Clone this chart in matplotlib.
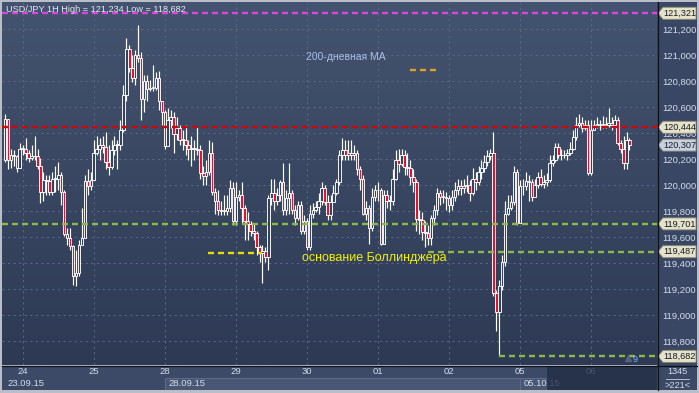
import numpy as np
import matplotlib
matplotlib.use('Agg')
import matplotlib.pyplot as plt
from matplotlib import font_manager
from matplotlib.patches import Rectangle, Polygon
from matplotlib.colors import LinearSegmentedColormap
from matplotlib.transforms import blended_transform_factory, IdentityTransform

installed = {f.name for f in font_manager.fontManager.ttflist}
plt.rcParams['font.family'] = 'Liberation Sans' if 'Liberation Sans' in installed else 'DejaVu Sans'
plt.rcParams['lines.scale_dashes'] = False

# USD/JPY hourly candles, 23.09.15 18:00 .. 06.10.15
first_open = 120.19
closes = [120.51, 120.19, 120.23, 120.22, 120.13, 120.28, 120.28, 120.25, 120.21, 120.22,
          120.22, 120.15, 119.95, 120.04, 120.03, 119.95, 120.05, 120.05, 120.08, 119.95,
          119.62, 119.59, 119.53, 119.30, 119.32, 119.54, 119.59, 120.03, 119.99, 120.04,
          120.25, 120.28, 120.31, 120.29, 120.18, 120.14, 120.27, 120.31, 120.31, 120.42,
          120.69, 121.05, 120.90, 120.82, 121.00, 120.98, 120.66, 120.80, 120.74, 120.75,
          120.75, 120.82, 120.65, 120.56, 120.30, 120.50, 120.52, 120.39, 120.44, 120.35,
          120.35, 120.31, 120.28, 120.28, 120.28, 120.27, 120.09, 120.07, 120.10, 120.25,
          119.95, 119.88, 119.81, 119.80, 119.80, 119.82, 119.98, 119.72, 119.91, 119.92,
          119.82, 119.72, 119.70, 119.65, 119.63, 119.52, 119.48, 119.49, 119.45, 119.90,
          119.94, 119.88, 119.92, 120.02, 119.81, 119.90, 119.94, 119.81, 119.75, 119.85,
          119.65, 119.72, 119.52, 119.78, 119.81, 119.83, 119.88, 119.98, 119.87, 119.77,
          119.87, 119.94, 120.02, 120.23, 120.27, 120.23, 120.25, 120.23, 120.25, 120.12,
          120.05, 119.78, 119.82, 119.67, 119.91, 119.96, 119.96, 119.55, 119.92, 119.88,
          119.88, 120.05, 120.19, 120.16, 120.23, 120.14, 120.13, 120.06, 120.02, 119.74,
          119.73, 119.64, 119.63, 119.59, 119.75, 119.81, 119.94, 119.91, 119.91, 119.90,
          119.85, 119.91, 119.96, 119.99, 119.98, 119.99, 120.00, 119.94, 120.05, 120.02,
          120.10, 120.13, 120.18, 120.22, 120.25, 119.17, 119.02, 119.22, 119.41, 119.78,
          119.82, 119.87, 120.10, 119.71, 119.99, 119.99, 120.03, 120.02, 119.91, 120.00,
          120.06, 120.01, 120.02, 120.04, 120.17, 120.19, 120.29, 120.23, 120.23, 120.23,
          120.25, 120.28, 120.37, 120.46, 120.48, 120.44, 120.46, 120.09, 120.42, 120.46,
          120.47, 120.46, 120.47, 120.46, 120.48, 120.46, 120.50, 120.32, 120.28, 120.17,
          120.35, 120.307]
highs = [120.55, 120.51, 120.28, 120.27, 120.23, 120.32, 120.31, 120.36, 120.27, 120.31,
         120.38, 120.28, 120.21, 120.10, 120.08, 120.08, 120.10, 120.15, 120.18, 120.10,
         119.96, 119.67, 119.67, 119.54, 119.50, 119.58, 119.82, 120.08, 120.12, 120.10,
         120.35, 120.38, 120.36, 120.38, 120.41, 120.31, 120.35, 120.38, 120.35, 120.50,
         120.77, 121.13, 121.08, 121.00, 121.04, 121.234, 121.02, 120.85, 120.85, 120.81,
         120.92, 120.87, 120.88, 120.65, 120.58, 120.59, 120.58, 120.56, 120.52, 120.46,
         120.42, 120.46, 120.35, 120.38, 120.35, 120.45, 120.31, 120.15, 120.19, 120.35,
         120.33, 119.98, 119.96, 119.88, 119.92, 119.92, 120.04, 120.02, 120.02, 119.96,
         120.02, 119.85, 119.79, 119.72, 119.70, 119.65, 119.54, 119.54, 119.52, 119.92,
         120.05, 120.05, 119.98, 120.04, 120.17, 119.96, 120.17, 119.96, 119.85, 119.88,
         119.88, 119.77, 119.75, 119.85, 119.86, 119.88, 119.94, 120.02, 120.00, 119.92,
         119.92, 120.00, 120.05, 120.27, 120.36, 120.35, 120.35, 120.35, 120.31, 120.27,
         120.15, 120.08, 119.88, 119.85, 119.98, 120.00, 120.02, 119.98, 119.96, 119.96,
         119.92, 120.12, 120.27, 120.28, 120.28, 120.27, 120.25, 120.19, 120.12, 120.05,
         119.81, 119.79, 119.72, 119.69, 119.77, 119.85, 119.98, 119.96, 119.96, 119.95,
         119.92, 119.96, 120.02, 120.05, 120.04, 120.05, 120.08, 120.04, 120.13, 120.10,
         120.15, 120.19, 120.23, 120.27, 120.28, 120.41, 119.19, 119.27, 119.46, 119.88,
         119.92, 119.92, 120.15, 120.12, 120.04, 120.05, 120.10, 120.08, 120.05, 120.05,
         120.10, 120.12, 120.08, 120.09, 120.23, 120.23, 120.32, 120.32, 120.28, 120.27,
         120.28, 120.33, 120.42, 120.52, 120.55, 120.52, 120.50, 120.50, 120.50, 120.50,
         120.52, 120.50, 120.53, 120.52, 120.59, 120.52, 120.54, 120.52, 120.35, 120.38,
         120.41, 120.36]
lows = [120.18, 120.12, 120.13, 120.15, 120.10, 120.13, 120.23, 120.19, 120.18, 120.19,
        120.19, 120.12, 119.86, 119.88, 119.92, 119.92, 119.92, 119.95, 119.96, 119.85,
        119.61, 119.54, 119.50, 119.23, 119.22, 119.30, 119.54, 119.69, 119.92, 119.96,
        120.04, 120.23, 120.19, 120.25, 120.12, 120.08, 120.12, 120.23, 120.12, 120.27,
        120.41, 120.65, 120.87, 120.79, 120.77, 120.95, 120.50, 120.56, 120.65, 120.72,
        120.72, 120.73, 120.58, 120.46, 120.28, 120.38, 120.44, 120.25, 120.35, 120.31,
        120.27, 120.23, 120.19, 120.15, 120.19, 120.23, 120.05, 120.00, 120.00, 120.08,
        119.92, 119.78, 119.77, 119.77, 119.77, 119.77, 119.79, 119.69, 119.69, 119.88,
        119.71, 119.58, 119.58, 119.61, 119.58, 119.46, 119.41, 119.25, 119.41, 119.35,
        119.85, 119.81, 119.85, 119.88, 119.77, 119.77, 119.78, 119.78, 119.69, 119.73,
        119.62, 119.62, 119.50, 119.50, 119.75, 119.79, 119.78, 119.85, 119.85, 119.73,
        119.73, 119.88, 119.92, 120.00, 120.19, 120.19, 120.19, 120.19, 120.19, 120.08,
        119.96, 119.77, 119.73, 119.55, 119.65, 119.88, 119.88, 119.54, 119.85, 119.82,
        119.81, 119.85, 120.04, 120.10, 120.15, 120.08, 120.08, 120.00, 119.95, 119.65,
        119.62, 119.58, 119.52, 119.54, 119.54, 119.69, 119.77, 119.85, 119.86, 119.81,
        119.79, 119.81, 119.88, 119.92, 119.92, 119.94, 119.95, 119.88, 119.92, 119.96,
        120.00, 120.05, 120.10, 120.15, 120.19, 119.15, 118.88, 118.682, 119.19, 119.38,
        119.77, 119.81, 119.85, 119.69, 119.88, 119.92, 119.96, 119.88, 119.88, 119.91,
        119.98, 119.99, 119.98, 119.99, 120.02, 120.15, 120.18, 120.21, 120.19, 120.21,
        120.19, 120.23, 120.27, 120.35, 120.45, 120.41, 120.42, 120.08, 120.08, 120.42,
        120.44, 120.42, 120.44, 120.44, 120.45, 120.42, 120.45, 120.31, 120.25, 120.12,
        120.12, 120.27]

day_starts = [6, 30, 54, 78, 102, 126, 150, 174, 198]
day_labels = ['24', '25', '28', '29', '30', '01', '02', '05', '06']
week_labels = ['23.09.15', '28.09.15', '05.10.15']
week_label_x = [0.9, 55.3, 175.3]
price_ticks = [118.8, 119.0, 119.2, 119.4, 119.6, 119.8, 120.0, 120.2, 120.4, 120.6, 120.8, 121.0, 121.2]

period_high, period_low = 121.234, 118.682
r1_level = 121.321
r2_level = 120.444
s1_level = 119.701
boll_level = 119.487
last_price = 120.307

W, H = 699, 393
XLIM = (-1.0, 220.3)
YLIM = (118.6154, 121.4077)
TXT = '#d4dcec'


def fbox(x0, y0, x1, y1):
    return [x0 / W, 1 - y1 / H, (x1 - x0) / W, (y1 - y0) / H]


def fmt(v):
    return f'{v:.3f}'.replace('.', ',')


fig = plt.figure(figsize=(W / 100, H / 100), dpi=100, facecolor='#b9bec8')

bg = fig.add_axes([0, 0, 1, 1], zorder=-10)
bg.set_xlim(0, W)
bg.set_ylim(H, 0)
bg.axis('off')
bg.add_patch(Rectangle((657, 2), 40, 363, fc='#3a4764', ec='none'))
bg.add_patch(Rectangle((657, 365), 40, 25, fc='#3c4966', ec='none'))

# main price panel
ax = fig.add_axes(fbox(2, 2, 657, 365), zorder=1)
grad = np.linspace(0, 1, 256)[:, None]
cmap = LinearSegmentedColormap.from_list('bgc', ['#44536f', '#2e3a54'])
ax.imshow(grad, extent=[XLIM[0], XLIM[1], YLIM[0], YLIM[1]], origin='upper',
          aspect='auto', cmap=cmap, zorder=0)

ax.set_yticks(price_ticks)
ax.set_yticklabels([fmt(v) for v in price_ticks])
ax.yaxis.tick_right()
ax.tick_params(axis='y', length=0, pad=3.5, labelsize=6.8, labelcolor=TXT)
ax.set_xticks(day_starts)
ax.tick_params(axis='x', length=0, labelbottom=False)
ax.grid(True, color='#5a6987', lw=0.7, ls=(0, (1.5, 2.5)), zorder=1)
for s in ax.spines.values():
    s.set_visible(False)

c = np.array(closes)
o = np.r_[first_open, c[:-1]]
idx = np.arange(len(c))
hi = np.maximum(highs, np.maximum(o, c))
lo = np.minimum(lows, np.minimum(o, c))
ax.vlines(idx, lo, hi, color='white', lw=0.85, zorder=3)
down = c < o
face = np.where(down, '#e8102c', '#36435e')
ax.bar(idx, np.maximum(np.abs(c - o), 0.004), bottom=np.minimum(o, c), width=0.86,
       color=face, edgecolor='white', linewidth=0.65, zorder=4)

dash = (0, (4.3, 2.9))
ax.axhline(r1_level, color='#dc46dc', lw=1.7, ls=dash, zorder=5)
ax.axhline(r2_level, color='#c80a0a', lw=1.7, ls=dash, zorder=5)
ax.axhline(s1_level, color='#8cba4a', lw=1.7, ls=dash, zorder=5)
ax.hlines(boll_level, 143, XLIM[1], color='#8cba4a', lw=1.7, ls=dash, zorder=5)
ax.hlines(period_low, 167, XLIM[1], color='#8cba4a', lw=1.7, ls=dash, zorder=5)
ax.hlines(119.475, 68.6, 86.8, color='#e6e000', lw=1.7, ls=dash, zorder=5)
ax.hlines(120.885, 136.8, 147, color='#e0a020', lw=1.7, ls=dash, zorder=5)

ax.text(4 / 655, 1 - 8 / 363, f'USD/JPY 1H High = {fmt(period_high)} Low = {fmt(period_low)}',
        transform=ax.transAxes, ha='left', va='center', fontsize=6.6, color='#e4e8f2', zorder=6)
ax.text(101.7, 120.985, '200-дневная МА', ha='left', va='center', fontsize=7.5,
        color='#aac0ea', zorder=6)
ax.text(100.5, 119.435, 'основание Боллинджера', ha='left', va='center', fontsize=9,
        color='#f2f200', zorder=6)
ax.plot([210.5], [118.67], marker='^', ms=4, color='#56627c', zorder=6)
ax.text(213.0, 118.66, '9', ha='center', va='center', fontsize=6.5, color='#80b4ff', zorder=6)

# price tags on the right scale
blend = blended_transform_factory(IdentityTransform(), ax.transData)
dy = 6 * (YLIM[1] - YLIM[0]) / 363
tags = [(r1_level, '#e6e2c8'), (r2_level, '#e6e2c8'), (last_price, '#c8d0de'),
        (s1_level, '#e6e2c8'), (boll_level, '#e6e2c8'), (period_low, '#e6e2c8')]
for p, fc in tags:
    ax.add_patch(Polygon([(658, p), (663, p + dy), (696, p + dy), (696, p - dy), (663, p - dy)],
                         closed=True, fc=fc, ec='#8c8c78', lw=0.6, transform=blend,
                         clip_on=False, zorder=7))
    ax.text(663.5, p, fmt(p), transform=blend, ha='left', va='center', fontsize=6.6,
            color='#141c2c', clip_on=False, zorder=8)

ax.set_xlim(*XLIM)
ax.set_ylim(*YLIM)

# date panel
axb = fig.add_axes(fbox(2, 366, 657, 390), zorder=1)
axb.set_xlim(*XLIM)
axb.set_ylim(0, 1)
axb.set_facecolor('#3d4a67')
axb.set_xticks([])
axb.set_yticks([])
for s in axb.spines.values():
    s.set_visible(False)
axb.add_patch(Rectangle((54, 0.02), 120, 0.49, fc='#4a5774', ec='#5e6c8a', lw=0.7, zorder=1))
axb.add_patch(Rectangle((174, 0.02), 9.1, 0.49, fc='#4a5774', ec='#5e6c8a', lw=0.7, zorder=1))
for d, lab in zip(day_starts, day_labels):
    axb.text(d, 0.76, lab, ha='center', va='center', fontsize=6.8, color=TXT, zorder=3)
for x, lab in zip(week_label_x, week_labels):
    axb.text(x, 0.27, lab, ha='left', va='center', fontsize=6.8, color=TXT, zorder=3)
axb.add_patch(Rectangle((183.1, 0), XLIM[1] - 183.1, 1, fc='#222c44', alpha=0.78, ec='none', zorder=5))

# separators and corner box
top = fig.add_axes([0, 0, 1, 1], zorder=10)
top.set_xlim(0, W)
top.set_ylim(H, 0)
top.axis('off')
top.patch.set_alpha(0)
top.plot([657.5, 657.5], [2, 390], color='#0d1119', lw=0.9)
top.plot([2, 697], [365.5, 365.5], color='#0d1119', lw=0.9)
top.text(677.5, 372, '1345', ha='center', va='center', fontsize=6.6, color=TXT)
top.plot([666, 689], [378.5, 378.5], color='#c8d0e0', lw=0.6)
top.text(677.5, 385, '>221<', ha='center', va='center', fontsize=6.6, color=TXT)

fig.savefig('out.png', dpi=100, facecolor=fig.get_facecolor())
